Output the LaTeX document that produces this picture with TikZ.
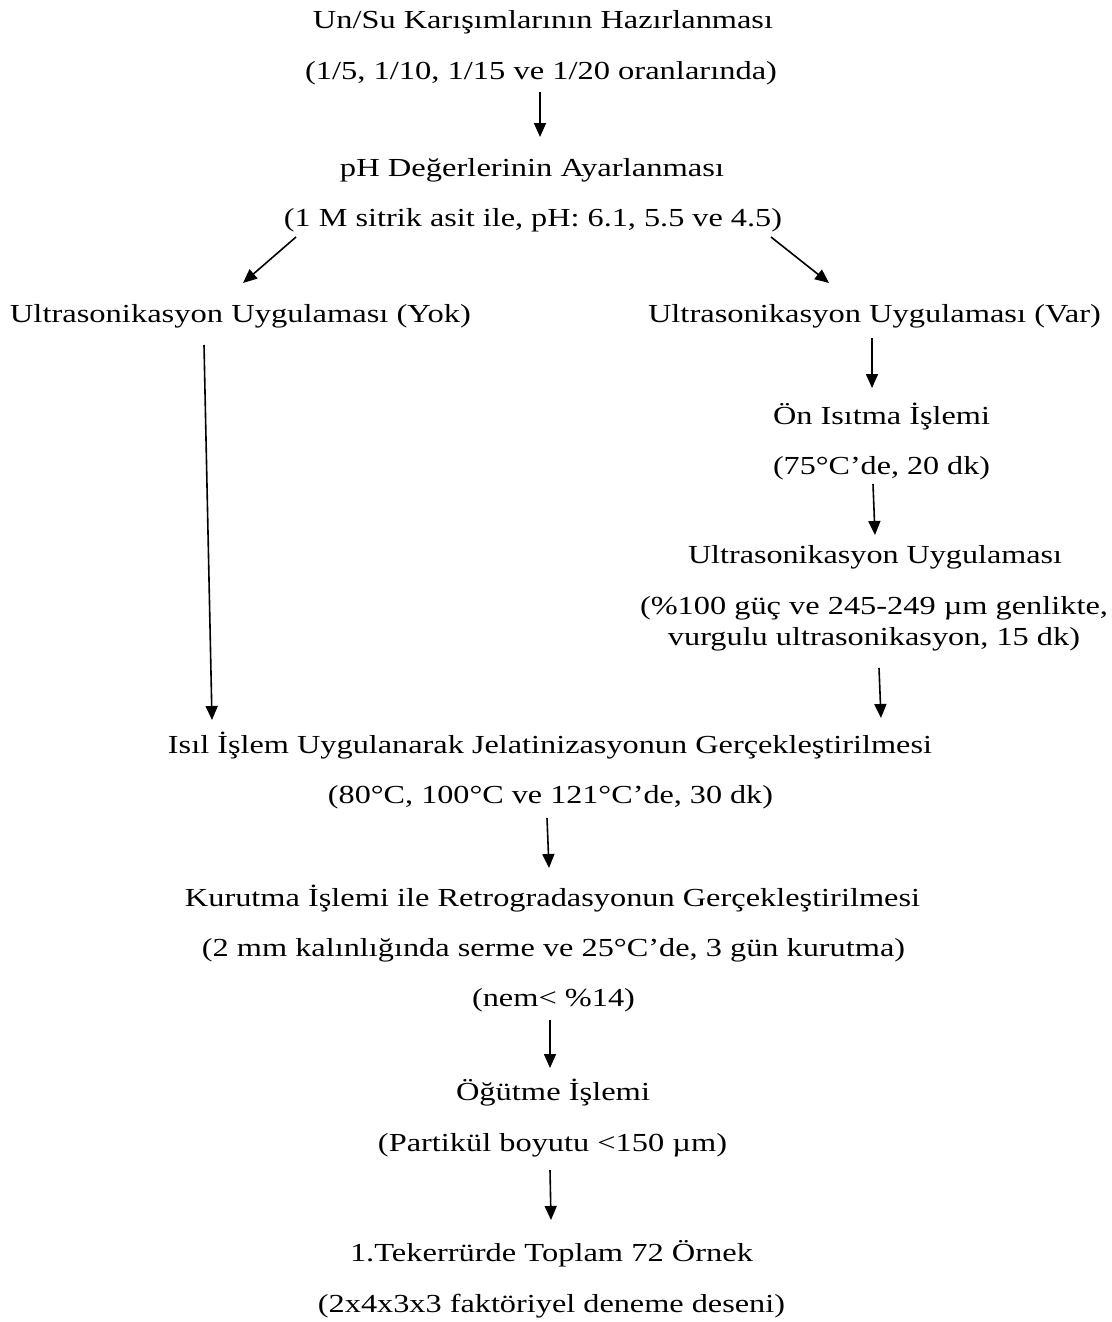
\documentclass[tikz,border=0pt]{standalone}
\usepackage{fontspec}
\setmainfont{Liberation Serif}
\usepackage{graphicx}
\usetikzlibrary{arrows.meta}
\newcommand\fitw[2]{\resizebox{#1pt}{\height}{#2}}
\tikzset{
  lbl/.style={inner sep=0pt, anchor=base, font=\fontsize{26}{30}\selectfont},
  arr/.style={line width=1.6pt, -{Triangle[length=14pt,width=12pt]}}
}
\begin{document}
\begin{tikzpicture}[x=1pt,y=-1pt]
\useasboundingbox (0,0) rectangle (1111,1322);
\node[lbl] (n1) at (543,28) {\fitw{460}{Un/Su Karışımlarının Hazırlanması}};
\node[lbl] (n2) at (541,79) {\fitw{472}{(1/5, 1/10, 1/15 ve 1/20 oranlarında)}};
\node[lbl] (n3) at (532,176) {\fitw{384}{pH Değerlerinin Ayarlanması}};
\node[lbl] (n4) at (533,226) {\fitw{498}{(1 M sitrik asit ile, pH: 6.1, 5.5 ve 4.5)}};
\node[lbl] (yok) at (240.5,322) {\fitw{461}{Ultrasonikasyon Uygulaması (Yok)}};
\node[lbl] (var) at (874.5,322) {\fitw{453}{Ultrasonikasyon Uygulaması (Var)}};
\node[lbl] (on1) at (881.5,424) {\fitw{217}{Ön Isıtma İşlemi}};
\node[lbl] (on2) at (881.5,474) {\fitw{217}{(75°C’de, 20 dk)}};
\node[lbl] (u1) at (875,563) {\fitw{374}{Ultrasonikasyon Uygulaması}};
\node[lbl] (u2) at (874,614) {\fitw{468}{(\%100 güç ve 245-249 µm genlikte,}};
\node[lbl] (u3) at (874,645) {\fitw{412}{vurgulu ultrasonikasyon, 15 dk)}};
\node[lbl] (j1) at (550,753) {\fitw{764}{Isıl İşlem Uygulanarak Jelatinizasyonun Gerçekleştirilmesi}};
\node[lbl] (j2) at (550.5,803) {\fitw{445}{(80°C, 100°C ve 121°C’de, 30 dk)}};
\node[lbl] (k1) at (552.5,906) {\fitw{735}{Kurutma İşlemi ile Retrogradasyonun Gerçekleştirilmesi}};
\node[lbl] (k2) at (553.5,956) {\fitw{703}{(2 mm kalınlığında serme ve 25°C’de, 3 gün kurutma)}};
\node[lbl] (k3) at (553.5,1006) {\fitw{163}{(nem< \%14)}};
\node[lbl] (o1) at (553,1100) {\fitw{194}{Öğütme İşlemi}};
\node[lbl] (o2) at (552.5,1151) {\fitw{349}{(Partikül boyutu <150 µm)}};
\node[lbl] (t1) at (551.5,1261) {\fitw{403}{1.Tekerrürde Toplam 72 Örnek}};
\node[lbl] (t2) at (551.5,1312) {\fitw{467}{(2x4x3x3 faktöriyel deneme deseni)}};
% connector end points
\coordinate (a1s) at (540,92);   \coordinate (a1e) at (540,137);
\coordinate (a2s) at (296,237);  \coordinate (a2e) at (243,283);
\coordinate (a3s) at (771,237);  \coordinate (a3e) at (829,283);
\coordinate (a4s) at (204,345);  \coordinate (a4e) at (212,720);
\coordinate (a5s) at (872,338);  \coordinate (a5e) at (872,388);
\coordinate (a6s) at (873,484);  \coordinate (a6e) at (875,535);
\coordinate (a7s) at (879,668);  \coordinate (a7e) at (881,718);
\coordinate (a8s) at (547,818);  \coordinate (a8e) at (549,868);
\coordinate (a9s) at (550,1020); \coordinate (a9e) at (550,1068);
\coordinate (a10s) at (550,1170); \coordinate (a10e) at (551,1220);
\draw[arr] (a1s) -- (a1e);
\draw[arr] (a2s) -- (a2e);
\draw[arr] (a3s) -- (a3e);
\draw[arr] (a4s) -- (a4e);
\draw[arr] (a5s) -- (a5e);
\draw[arr] (a6s) -- (a6e);
\draw[arr] (a7s) -- (a7e);
\draw[arr] (a8s) -- (a8e);
\draw[arr] (a9s) -- (a9e);
\draw[arr] (a10s) -- (a10e);
\end{tikzpicture}
\end{document}
